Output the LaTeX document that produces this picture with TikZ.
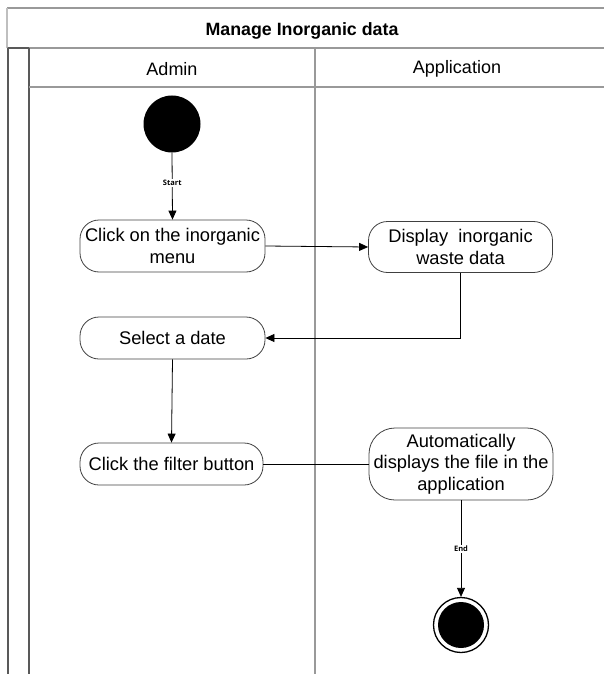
\documentclass[tikz,border=0pt]{standalone}
\usepackage{fontspec}
\setmainfont{Liberation Sans}
\newfontfamily\labelfont{Open Sans}
\usetikzlibrary{arrows.meta}
\begin{document}
\begin{tikzpicture}[x=1pt,y=-1pt,
  lane/.style={draw=black!40,line width=1.3pt},
  frame/.style={draw=black!65,line width=1.3pt},
  action/.style={draw=black!75,line width=0.8pt,rounded corners=19pt,align=center,
    inner sep=0pt,font=\fontsize{18.3}{21.5}\selectfont},
  flow/.style={draw=black,line width=0.8pt},
  tip/.style={-{Triangle[length=9pt,width=8pt]}},
  guard/.style={fill=white,inner sep=1pt,font=\labelfont\bfseries\fontsize{7.5}{8.5}\selectfont}]
\useasboundingbox (0,0) rectangle (604,674);
% swimlane frame
\draw[lane] (7,8) -- (604,8);
\draw[draw=black!25,line width=1.3pt] (7,8) -- (7,48);
\draw[lane] (7,48) -- (604,48);
\draw[frame] (8,48) -- (29,48);
\draw[frame] (8,48) -- (8,674);
\draw[frame] (29,48) -- (29,674);
\draw[lane] (29,87) -- (604,87);
\draw[lane] (315,48) -- (315,674);
\node[font=\bfseries\fontsize{17.8}{20}\selectfont] (title) at (302,31) {Manage Inorganic data};
\node[font=\fontsize{18}{21}\selectfont] (admin) at (172,69) {Admin};
\node[font=\fontsize{18}{21}\selectfont] (app) at (457,69) {Application};
% start and end
\node[circle,fill=black,minimum size=57pt,inner sep=0pt] (start) at (172,124) {};
\node[circle,draw=black,line width=1.3pt,fill=white,minimum size=55pt,inner sep=0pt] (end) at (461,625) {};
\fill[black] (end.center) circle (23pt);
% actions
\node[action,minimum width=185pt,minimum height=52pt] (menu) at (172.5,246) {Click on the inorganic\\menu};
\node[action,minimum width=184pt,minimum height=51pt] (show) at (460.5,247) {Display\ \ inorganic\\waste data};
\node[action,minimum width=185pt,minimum height=42pt] (date) at (172.5,338) {Select a date};
\node[action,minimum width=183pt,minimum height=42pt] (filter) at (171.5,464) {Click the filter button};
\node[action,minimum width=184pt,minimum height=72pt,rounded corners=26pt] (auto) at (461,464) {Automatically\\displays the file in the\\application};
% transitions
\draw[flow,tip] (start.south) -- node[guard,pos=0.45] {Start} (menu.north);
\draw[flow,tip] (menu.east) -- (show.west);
\draw[flow,tip] (show.south) |- (date.east);
\draw[flow,tip] (date.south) -- (filter.north);
\draw[flow] (filter.east) -- (auto.west);
\draw[flow,tip] (auto.south) -- node[guard,pos=0.5] {End} (end.north);
\end{tikzpicture}
\end{document}
